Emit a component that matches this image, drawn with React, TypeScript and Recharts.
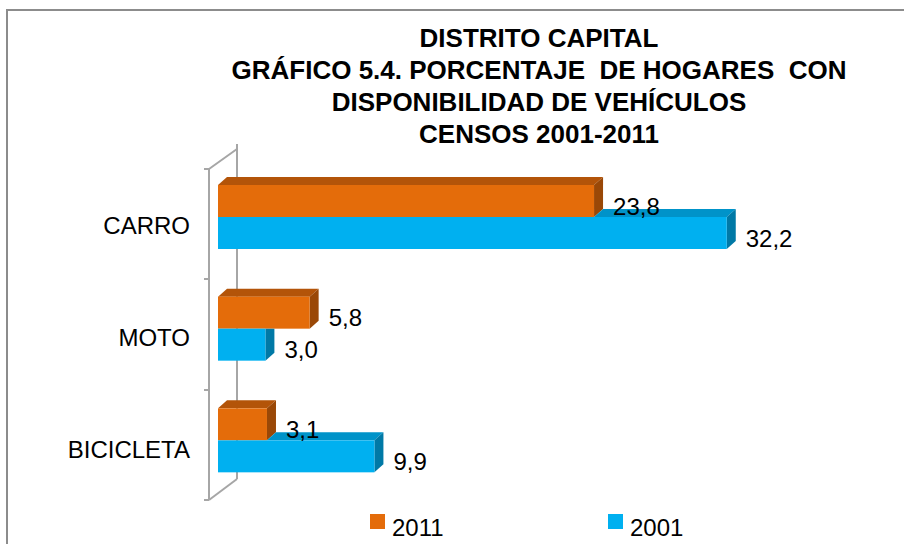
import React from 'react';
import { BarChart, Bar, XAxis, YAxis, LabelList } from 'recharts';

const CATEGORIES = ['CARRO', 'MOTO', 'BICICLETA'];
const VALUES_2011 = [23.8, 5.8, 3.1];
const VALUES_2001 = [32.2, 3.0, 9.9];
const SERIES_NAMES = ['2011', '2001'];
const TITLE_LINES = [
  'DISTRITO CAPITAL',
  'GRÁFICO 5.4. PORCENTAJE  DE HOGARES  CON',
  'DISPONIBILIDAD DE VEHÍCULOS',
  'CENSOS 2001-2011',
];

const data = CATEGORIES.map((name, i) => ({ name, v2011: VALUES_2011[i], v2001: VALUES_2001[i] }));

const FONT = '"Liberation Sans", Arial, sans-serif';
const ORANGE = { front: '#E46C0A', top: '#B35409', side: '#9A4807' };
const BLUE = { front: '#00B0F0', top: '#0093C9', side: '#0079A6' };
const DX = 9;
const DY = 8;

const fmt = (v: number) => v.toFixed(1).replace('.', ',');

// 2011 bar: full box (drawn first)
function OrangeBox(props: any) {
  const { x, y, width: w, height: h } = props;
  if (w <= 0) return null;
  return (
    <g>
      <polygon points={`${x},${y} ${x + w},${y} ${x + w + DX},${y - DY} ${x + DX},${y - DY}`} fill={ORANGE.top} />
      <polygon points={`${x + w},${y} ${x + w + DX},${y - DY} ${x + w + DX},${y + h - DY} ${x + w},${y + h}`} fill={ORANGE.side} />
      <rect x={x} y={y} width={w} height={h} fill={ORANGE.front} />
    </g>
  );
}

// 2001 bar sits under the 2011 one, only draw the faces that show
function BlueBox(props: any) {
  const { x, y, width: w, height: h, payload } = props;
  if (w <= 0) return null;
  const xb = x + w;
  const xo = x + (w * payload.v2011) / payload.v2001;
  return (
    <g>
      {xb > xo ? (
        <>
          <polygon points={`${xo},${y} ${xb},${y} ${xb + DX},${y - DY} ${xo + DX},${y - DY}`} fill={BLUE.top} />
          <polygon points={`${xb},${y} ${xb + DX},${y - DY} ${xb + DX},${y + h - DY} ${xb},${y + h}`} fill={BLUE.side} />
        </>
      ) : (
        <polygon points={`${xb},${y} ${xb + DX},${y} ${xb + DX},${y + h - DY} ${xb},${y + h}`} fill={BLUE.side} />
      )}
      <rect x={x} y={y} width={w} height={h} fill={BLUE.front} />
    </g>
  );
}

const valueLabel = (props: any) => {
  const { x, y, width, height, value } = props;
  return (
    <text x={x + width + 19} y={y + height / 2 + 5} dominantBaseline="central" fontSize={24} fontFamily={FONT} fill="#000">
      {fmt(value)}
    </text>
  );
};

const CategoryTick = (props: any) => {
  const { x, y, payload } = props;
  return (
    <text x={x - 28} y={y + 9} textAnchor="end" dominantBaseline="central" fontSize={24} fontFamily={FONT} fill="#000">
      {payload.value}
    </text>
  );
};

export default function App() {
  const wall = '#a6a6a6';
  return (
    <div style={{ position: 'absolute', left: 0, top: 0, width: 904, height: 544, background: '#fff', overflow: 'hidden' }}>
      <svg width={904} height={544} style={{ position: 'absolute', left: 0, top: 0 }}>
        <rect x={7} y={10} width={1000} height={1000} fill="none" stroke="#8c8c8c" strokeWidth={2} />
        {TITLE_LINES.map((t, i) => (
          <text
            key={i}
            x={539}
            y={38 + i * 32}
            textAnchor="middle"
            dominantBaseline="central"
            fontSize={26}
            fontWeight="bold"
            fontFamily={FONT}
            fill="#000"
            style={{ whiteSpace: 'pre' }}
          >
            {t}
          </text>
        ))}
        {/* 3D side wall */}
        <g stroke={wall} strokeWidth={2} fill="none">
          <line x1={209} y1={169} x2={209} y2={500} />
          <line x1={237} y1={144} x2={237} y2={479} />
          <line x1={209} y1={169} x2={237} y2={149} />
          <line x1={209} y1={500} x2={237} y2={479} />
          {[169, 279, 390, 500].map((ty) => (
            <line key={ty} x1={204} y1={ty} x2={209} y2={ty} />
          ))}
        </g>
        {SERIES_NAMES.map((n, i) => (
          <g key={n}>
            <rect x={370 + i * 238} y={514} width={15} height={15} fill={i === 0 ? ORANGE.front : BLUE.front} />
            <text x={392 + i * 238} y={536} fontSize={24} fontFamily={FONT} fill="#000">
              {n}
            </text>
          </g>
        ))}
      </svg>
      <div style={{ position: 'absolute', left: 0, top: 0 }}>
        <BarChart
          width={904}
          height={544}
          data={data}
          layout="vertical"
          margin={{ top: 161, right: 54, bottom: 48, left: 0 }}
          barGap={0}
          barSize={32}
        >
          <XAxis type="number" domain={[0, 40]} hide />
          <YAxis type="category" dataKey="name" width={218} axisLine={false} tickLine={false} tickSize={0} tickMargin={0} tick={<CategoryTick />} />
          <Bar dataKey="v2011" name={SERIES_NAMES[0]} shape={<OrangeBox />} isAnimationActive={false}>
            <LabelList dataKey="v2011" content={valueLabel} />
          </Bar>
          <Bar dataKey="v2001" name={SERIES_NAMES[1]} shape={<BlueBox />} isAnimationActive={false}>
            <LabelList dataKey="v2001" content={valueLabel} />
          </Bar>
        </BarChart>
      </div>
    </div>
  );
}
